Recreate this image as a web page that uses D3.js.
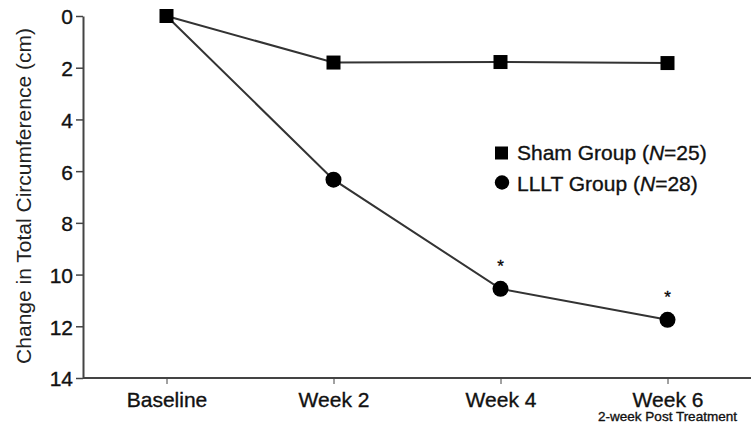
<!DOCTYPE html>
<html>
<head>
<meta charset="utf-8">
<script src="https://cdn.jsdelivr.net/npm/d3@7"></script>
<style>
  body { margin: 0; background: #fff; }
  svg { font-family: "Liberation Sans", Arial, sans-serif; }
  .heavy { stroke: #111; stroke-width: 0.35px; }
</style>
</head>
<body>
<svg id="chart" width="752" height="426"></svg>
<script>
const categories = ["Baseline", "Week 2", "Week 4", "Week 6"];
const shamValues = [0, 1.8, 1.78, 1.82];
const llltValues = [0, 6.33, 10.55, 11.75];
const starred = [false, false, true, true];
const yTicks = [0, 2, 4, 6, 8, 10, 12, 14];

const svg = d3.select("#chart");
const plotLeft = 83, plotRight = 751, plotTop = 16, plotBottom = 378;

const x = d3.scalePoint().domain(categories).range([plotLeft, plotRight]).padding(0.5);
const y = d3.scaleLinear().domain([0, 14]).range([plotTop, plotBottom]);

// axes
const yAxis = d3.axisLeft(y).tickValues(yTicks).tickSize(7).tickSizeOuter(0);
const gy = svg.append("g").attr("transform", `translate(${plotLeft},0)`).call(yAxis);
gy.select(".domain").attr("stroke", "#444").attr("stroke-width", 2);
gy.selectAll(".tick line").attr("stroke", "#444").attr("stroke-width", 1.5);
gy.selectAll(".tick text").attr("x", -10).attr("dy", "0.38em").attr("class", "heavy")
  .style("font-size", "21px").attr("fill", "#111");

const xAxis = d3.axisBottom(x).tickSize(6).tickSizeOuter(0);
const gx = svg.append("g").attr("transform", `translate(0,${plotBottom})`).call(xAxis);
gx.select(".domain").attr("stroke", "#444").attr("stroke-width", 2)
  .attr("d", `M${plotLeft},0H${plotRight}`);
gx.selectAll(".tick line").attr("stroke", "#444").attr("stroke-width", 1);
gx.selectAll(".tick text").attr("y", 29).attr("dy", 0).attr("class", "heavy")
  .style("font-size", "21px").attr("fill", "#111");

svg.append("text")
  .attr("x", x("Week 6")).attr("y", 421).attr("class", "heavy")
  .attr("text-anchor", "middle").style("font-size", "13.5px").attr("fill", "#111")
  .text("2-week Post Treatment");

svg.append("text")
  .attr("transform", `translate(31,196) rotate(-90)`)
  .attr("text-anchor", "middle").style("font-size", "21px").attr("fill", "#222")
  .text("Change in Total Circumference (cm)");

// lines
const line = d3.line().x((d, i) => x(categories[i])).y(d => y(d));
[shamValues, llltValues].forEach(vals => {
  svg.append("path").datum(vals).attr("d", line)
    .attr("fill", "none").attr("stroke", "#333").attr("stroke-width", 2);
});

// markers
const sq = 14;
svg.selectAll("rect.sham").data(shamValues).enter().append("rect")
  .attr("x", (d, i) => x(categories[i]) - sq / 2)
  .attr("y", d => y(d) - sq / 2)
  .attr("width", sq).attr("height", sq).attr("fill", "#000");

svg.selectAll("circle.lllt").data(llltValues.slice(1)).enter().append("circle")
  .attr("cx", (d, i) => x(categories[i + 1]))
  .attr("cy", d => y(d))
  .attr("r", 8).attr("fill", "#000");

const starCats = categories.filter((c, j) => starred[j]);
svg.selectAll("text.star").data(llltValues.filter((d, i) => starred[i])).enter().append("text")
  .attr("x", (d, i) => x(starCats[i]))
  .attr("y", d => y(d) - 17).attr("class", "heavy")
  .attr("text-anchor", "middle").style("font-size", "17px").text("*");

// legend
const legend = svg.append("g").attr("transform", "translate(502,153)");
legend.append("rect").attr("x", -7).attr("y", -6.5).attr("width", 13).attr("height", 13).attr("fill", "#000");
legend.append("circle").attr("cx", 0).attr("cy", 29.5).attr("r", 7.2).attr("fill", "#000");
const lt = [["Sham Group (", "25)"], ["LLLT Group (", "28)"]];
lt.forEach((t, i) => {
  const txt = legend.append("text").attr("x", 15).attr("y", i * 31 + 6.5).attr("class", "heavy")
    .style("font-size", "21px").attr("fill", "#111");
  txt.append("tspan").text(t[0]);
  txt.append("tspan").style("font-style", "italic").text("N");
  txt.append("tspan").text("=" + t[1]);
});
</script>
</body>
</html>
